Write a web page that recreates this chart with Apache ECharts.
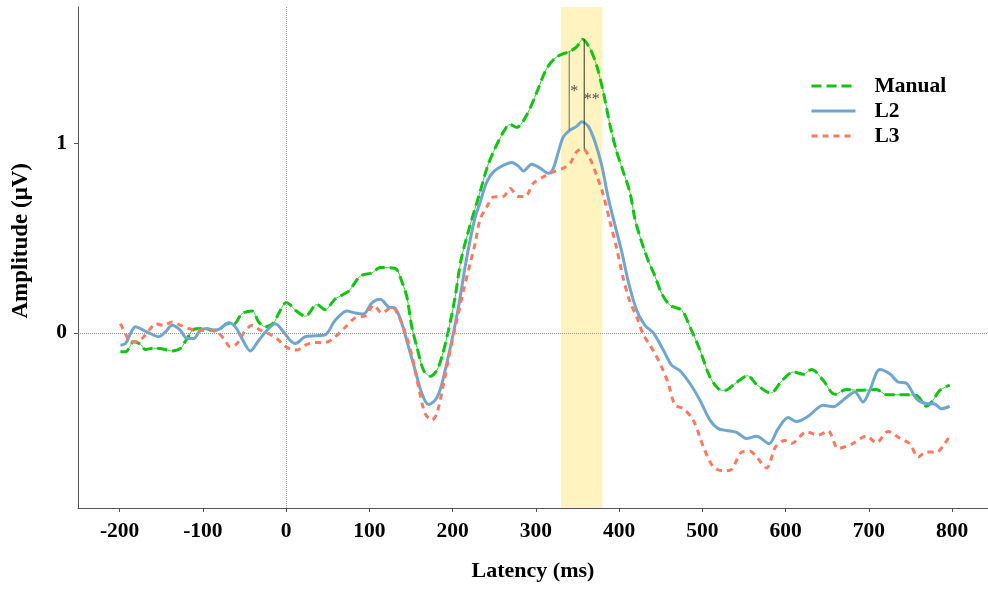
<!DOCTYPE html>
<html><head><meta charset="utf-8">
<script src="https://cdn.jsdelivr.net/npm/echarts@6/dist/echarts.min.js"></script>
<style>html,body{margin:0;padding:0;background:#fff}#c{width:988px;height:589px}</style>
</head><body><div id="c"></div>
<script>
// Latency (ms) vs amplitude (µV)
const manual = [[-199,-0.10],[-193,-0.10],[-183,-0.047],[-175,-0.06],[-169,-0.088],[-159,-0.08],[-147,-0.086],[-137,-0.095],[-127,-0.082],[-119,-0.03],[-111,0.018],[-99,0.023],[-87,0.014],[-79,0.023],[-71,0.049],[-63,0.046],[-53,0.102],[-41,0.116],[-33,0.058],[-25,0.032],[-15,0.053],[-9,0.102],[0,0.16],[7,0.14],[11,0.12],[23,0.088],[37,0.15],[47,0.123],[59,0.18],[75,0.22],[89,0.30],[103,0.317],[113,0.345],[131,0.34],[139,0.27],[145,0.19],[151,0.03],[157,-0.074],[165,-0.197],[173,-0.229],[181,-0.197],[187,-0.127],[195,0.014],[203,0.19],[210,0.384],[221,0.569],[233,0.745],[241,0.868],[249,0.956],[261,1.061],[269,1.10],[277,1.085],[289,1.15],[301,1.27],[313,1.396],[325,1.457],[341,1.487],[349,1.51],[356,1.55],[365,1.50],[373,1.41],[381,1.27],[389,1.097],[397,0.956],[405,0.85],[413,0.74],[419,0.60],[427,0.48],[435,0.38],[443,0.30],[451,0.208],[461,0.146],[475,0.12],[485,0.032],[497,-0.09],[509,-0.232],[521,-0.30],[527,-0.303],[539,-0.268],[554,-0.226],[566,-0.276],[582,-0.317],[595,-0.255],[609,-0.206],[621,-0.218],[631,-0.193],[645,-0.25],[659,-0.324],[673,-0.299],[689,-0.303],[709,-0.299],[721,-0.326],[737,-0.326],[757,-0.33],[769,-0.387],[777,-0.355],[785,-0.303],[797,-0.276]];
const l2 = [[-199,-0.065],[-193,-0.056],[-187,-0.004],[-181,0.032],[-171,0.014],[-163,-0.004],[-153,-0.02],[-145,0.005],[-137,0.04],[-127,0.014],[-119,-0.03],[-111,-0.03],[-103,0.014],[-95,0.023],[-87,0.014],[-79,0.023],[-69,0.053],[-61,0.032],[-53,-0.03],[-43,-0.095],[-33,-0.04],[-23,0.014],[-13,0.049],[-3,0.005],[5,-0.04],[11,-0.056],[23,-0.02],[35,-0.015],[47,-0.01],[59,0.067],[73,0.115],[83,0.105],[93,0.10],[103,0.158],[113,0.178],[123,0.137],[131,0.13],[139,0.05],[147,-0.074],[155,-0.197],[163,-0.32],[171,-0.378],[179,-0.355],[185,-0.30],[191,-0.197],[199,-0.04],[207,0.137],[215,0.35],[221,0.49],[227,0.61],[233,0.69],[241,0.797],[249,0.85],[261,0.885],[271,0.90],[279,0.88],[285,0.854],[295,0.89],[305,0.87],[315,0.842],[321,0.87],[327,0.956],[333,1.035],[341,1.07],[349,1.09],[355,1.114],[363,1.09],[371,1.008],[379,0.885],[387,0.71],[395,0.568],[403,0.43],[411,0.27],[421,0.12],[431,0.04],[441,0.0],[453,-0.09],[463,-0.17],[473,-0.20],[485,-0.267],[497,-0.355],[509,-0.46],[519,-0.505],[529,-0.515],[541,-0.525],[553,-0.557],[565,-0.545],[580,-0.584],[591,-0.505],[603,-0.447],[613,-0.468],[627,-0.44],[645,-0.382],[657,-0.39],[671,-0.347],[683,-0.312],[693,-0.364],[701,-0.303],[713,-0.193],[725,-0.216],[735,-0.259],[745,-0.265],[757,-0.347],[769,-0.373],[779,-0.375],[787,-0.40],[797,-0.387]];
const l3 = [[-199,0.049],[-193,-0.004],[-187,-0.047],[-179,-0.047],[-171,-0.02],[-163,0.023],[-157,0.049],[-147,0.04],[-137,0.058],[-127,0.04],[-117,0.023],[-107,0.014],[-95,0.014],[-83,0.005],[-75,-0.03],[-67,-0.074],[-59,-0.056],[-51,0.0],[-41,0.04],[-31,0.014],[-21,-0.004],[-11,-0.03],[-3,-0.065],[7,-0.088],[13,-0.09],[23,-0.065],[35,-0.05],[47,-0.05],[59,-0.02],[71,0.03],[83,0.08],[95,0.09],[105,0.146],[115,0.105],[127,0.137],[135,0.09],[143,0.0],[151,-0.12],[159,-0.285],[167,-0.426],[175,-0.46],[181,-0.426],[189,-0.27],[197,-0.09],[205,0.067],[213,0.225],[221,0.366],[227,0.472],[233,0.60],[241,0.665],[249,0.718],[261,0.72],[269,0.762],[279,0.72],[287,0.72],[297,0.79],[309,0.824],[321,0.85],[333,0.87],[341,0.894],[349,0.956],[356,0.974],[365,0.92],[373,0.83],[381,0.727],[389,0.586],[397,0.446],[405,0.287],[413,0.164],[421,0.085],[429,-0.01],[437,-0.065],[443,-0.109],[451,-0.18],[459,-0.267],[467,-0.38],[477,-0.40],[489,-0.46],[501,-0.60],[513,-0.707],[525,-0.728],[535,-0.72],[547,-0.63],[557,-0.625],[565,-0.654],[577,-0.713],[588,-0.60],[599,-0.568],[607,-0.584],[625,-0.522],[639,-0.54],[651,-0.517],[663,-0.61],[679,-0.587],[697,-0.545],[709,-0.58],[723,-0.52],[737,-0.556],[749,-0.584],[759,-0.655],[769,-0.628],[781,-0.63],[791,-0.584],[799,-0.531]];
const xTicks = [-200,-100,0,100,200,300,400,500,600,700,800];
const yTicks = [0,1];
const bandRange = [330,380];
// significance annotations: latency, upper value, lower value ; label latency, value, text
const sigLines = [[340,1.487,1.07],[358,1.55,0.97]];
const sigLabels = [[346,1.27,'*'],[367,1.23,'**']];

const FONT = 'Liberation Serif';
const chart = echarts.init(document.getElementById('c'));
const sigSeries = sigLines.map((s,i)=>({
  type:'line', data:[[s[0],s[1]],[s[0],s[2]]], symbol:'none', silent:true, z:4,
  lineStyle:{color: i===0?'#666':'#333', width:1}
}));
chart.setOption({
  animation:false,
  grid:{left:78,right:0,top:7,bottom:81,outerBoundsMode:'none'},
  legend:{
    data:['Manual','L2','L3'], orient:'vertical', left:805, top:70,
    itemWidth:44, itemHeight:14, itemGap:3,
    itemStyle:{opacity:0},
    lineStyle:{width:3},
    textStyle:{fontFamily:FONT,fontWeight:'bold',fontSize:21.5,color:'#000',padding:[0,0,0,14]}
  },
  xAxis:{
    type:'value', min:-250, max:843,
    name:'Latency (ms)', nameLocation:'middle', nameGap:52,
    nameTextStyle:{fontFamily:FONT,fontWeight:'bold',fontSize:22,color:'#000'},
    axisLine:{onZero:false,lineStyle:{color:'#555',width:1}},
    axisTick:{show:true,length:4,customValues:xTicks,lineStyle:{color:'#555'}},
    axisLabel:{customValues:xTicks,margin:12,fontFamily:FONT,fontWeight:'bold',fontSize:21.5,color:'#000'},
    splitLine:{show:false}
  },
  yAxis:{
    type:'value', min:-0.924, max:1.72,
    axisLine:{show:true,onZero:false,lineStyle:{color:'#555',width:1}},
    axisTick:{show:true,length:4,customValues:yTicks,lineStyle:{color:'#555'}},
    axisLabel:{customValues:yTicks,margin:11,fontFamily:FONT,fontWeight:'bold',fontSize:21.5,color:'#000'},
    splitLine:{show:false}
  },
  graphic:[{
    type:'text', left:10, top:163, rotation:Math.PI/2,
    style:{text:'Amplitude (μV)',font:'bold 23px "Liberation Serif"',fill:'#000'}
  }],
  series:[
    {type:'line',name:'ref',data:[],silent:true,
      markLine:{silent:true,symbol:'none',label:{show:false},
        lineStyle:{color:'#999',type:'dotted',width:1},
        data:[{yAxis:0},{xAxis:0}]}},
    {type:'line',name:'ManualThin',data:manual,symbol:'none',smooth:0.3,silent:true,
      lineStyle:{color:'#3fd23f',width:1}},
    {type:'line',name:'Manual',data:manual,symbol:'none',smooth:0.3,
      itemStyle:{color:'#11c411'},
      lineStyle:{color:'#11c411',width:3,type:[10,5]}},
    {type:'line',name:'L2',data:l2,symbol:'none',smooth:0.3,
      itemStyle:{color:'#6fa5cf'},
      lineStyle:{color:'#6fa5cf',width:3}},
    {type:'line',name:'L3',data:l3,symbol:'none',smooth:0.3,
      itemStyle:{color:'#fb7a60'},
      lineStyle:{color:'#fb7a60',width:3,type:[6,5]}},
    {type:'line',name:'band',data:[],z:3,silent:true,
      markArea:{silent:true,itemStyle:{color:'rgba(255,227,98,0.4)'},
        data:[[{xAxis:bandRange[0]},{xAxis:bandRange[1]}]]}},
    ...sigSeries,
    {type:'scatter',name:'sig',symbolSize:0,silent:true,z:5,
      data:sigLabels.map(s=>({value:[s[0],s[1]],name:s[2]})),
      label:{show:true,position:'inside',formatter:p=>p.name,fontSize:16,color:'#222',fontFamily:FONT}}
  ]
});
</script></body></html>
